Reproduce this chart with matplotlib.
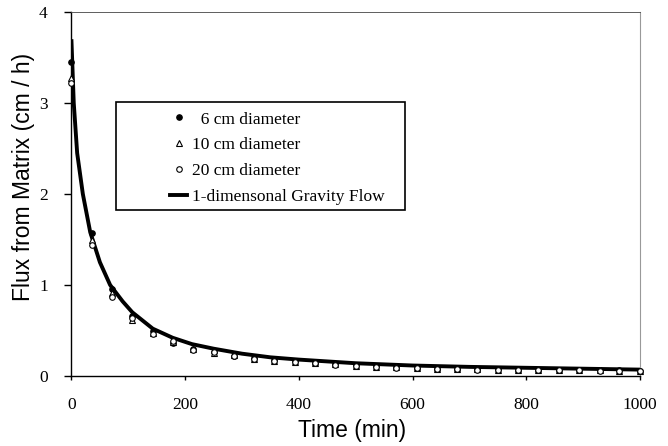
import matplotlib
matplotlib.use('Agg')
import matplotlib.pyplot as plt
from matplotlib.patches import Rectangle


# measured times (min)
time_min = [0, 36, 71, 107, 143, 179, 214, 250, 286, 321, 357, 393, 429, 464,
            500, 536, 571, 607, 643, 679, 714, 750, 786, 821, 857, 893, 929, 964, 1000]

flux_6cm = [3.45, 1.57, 0.96, 0.66, 0.49, 0.36, 0.30, 0.26, 0.22, 0.20, 0.175, 0.16,
            0.145, 0.13, 0.12, 0.105, 0.095, 0.09, 0.082, 0.08, 0.073, 0.072, 0.07,
            0.07, 0.068, 0.066, 0.064, 0.062, 0.06]
flux_10cm = [3.28, 1.50, 0.91, 0.62, 0.47, 0.37, 0.30, 0.25, 0.23, 0.19, 0.17, 0.155,
             0.14, 0.13, 0.115, 0.10, 0.095, 0.085, 0.08, 0.075, 0.072, 0.07, 0.068,
             0.066, 0.065, 0.064, 0.062, 0.06, 0.058]
flux_20cm = [3.22, 1.44, 0.87, 0.64, 0.46, 0.38, 0.29, 0.26, 0.22, 0.19, 0.17, 0.155,
             0.14, 0.125, 0.115, 0.10, 0.09, 0.085, 0.08, 0.075, 0.07, 0.07, 0.068,
             0.065, 0.064, 0.062, 0.06, 0.058, 0.055]

# 1-D gravity flow model curve
model_t = [0, 4, 10, 20, 33, 50, 68, 90, 107, 143, 178, 212, 250, 300, 350,
           400, 450, 500, 600, 700, 800, 900, 1000]
model_flux = [3.68, 3.0, 2.45, 2.0, 1.58, 1.25, 1.0, 0.82, 0.70, 0.52, 0.42, 0.35,
              0.30, 0.245, 0.205, 0.18, 0.16, 0.14, 0.115, 0.10, 0.09, 0.08, 0.07]

serif = 'Liberation Serif'
sans = 'Liberation Sans'

fig = plt.figure(figsize=(6.68, 4.46), dpi=100)
ax = fig.add_axes([0.107, 0.157, 0.851, 0.816])

ax.plot(model_t, model_flux, color='black', linewidth=2.8,
        label='1-dimensonal Gravity Flow', zorder=3)
ax.plot(time_min, flux_6cm, linestyle='none', marker='o', markersize=3.8,
        color='black', label='  6 cm diameter', clip_on=False, zorder=4)
ax.plot(time_min, flux_10cm, linestyle='none', marker='^', markersize=4.4,
        markerfacecolor='white', markeredgecolor='black', markeredgewidth=0.8,
        label='10 cm diameter', clip_on=False, zorder=4)
ax.plot(time_min, flux_20cm, linestyle='none', marker='o', markersize=4.0,
        markerfacecolor='white', markeredgecolor='black', markeredgewidth=0.8,
        label='20 cm diameter', clip_on=False, zorder=4)

ax.set_xlim(0, 1000)
ax.set_ylim(0, 4)
ax.set_xticks([0, 200, 400, 600, 800, 1000])
ax.set_yticks([0, 1, 2, 3, 4])

for lbl in ax.get_xticklabels() + ax.get_yticklabels():
    lbl.set_fontfamily(serif)
    lbl.set_fontsize(12.5)
ax.tick_params(axis='y', direction='out', length=5, width=1, pad=12)
ax.tick_params(axis='x', direction='out', length=3, width=1, pad=12)

ax.spines['left'].set_linewidth(1.0)
ax.spines['bottom'].set_linewidth(1.0)
ax.spines['top'].set_linewidth(0.6)
ax.spines['top'].set_color('#444444')
ax.spines['right'].set_linewidth(0.8)
ax.spines['right'].set_color('#999999')

ax.set_xlabel('Time (min)', fontsize=16.5, family=sans)
ax.set_ylabel('Flux from Matrix (cm / h)', fontsize=16.5, family=sans)
ax.xaxis.set_label_coords(0.493, -0.118)
ax.yaxis.set_label_coords(-0.064, 0.548)

# legend box drawn separately so its left padding matches the original
ax.add_patch(Rectangle((0.078, 0.456), 0.509, 0.297, transform=ax.transAxes,
                       facecolor='white', edgecolor='black', linewidth=1.2, zorder=5))
handles, labels = ax.get_legend_handles_labels()
order = [1, 2, 3, 0]
leg = ax.legend([handles[i] for i in order], [labels[i] for i in order],
                loc='upper left', bbox_to_anchor=(0.173, 0.727), frameon=False,
                prop={'family': serif, 'size': 12.5}, handlelength=1.0,
                handletextpad=0.3, labelspacing=0.56, borderpad=0, borderaxespad=0)
leg.set_zorder(6)

fig.savefig('out.png', dpi=100)
